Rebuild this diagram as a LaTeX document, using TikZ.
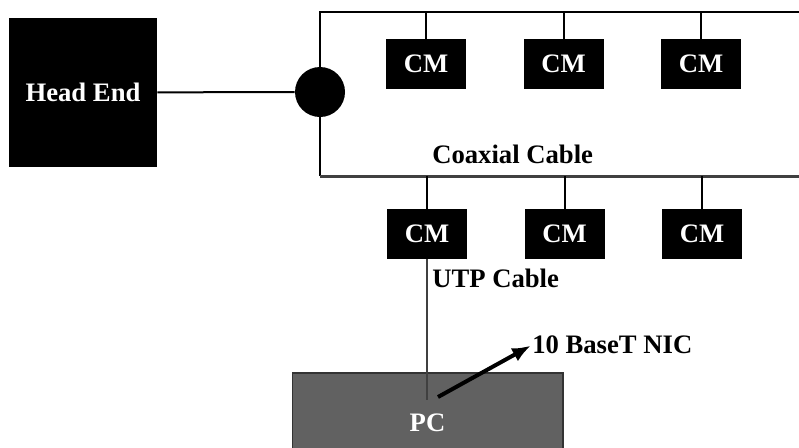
\documentclass[tikz,border=0pt]{standalone}
\usepackage{fontspec}
\setmainfont{Liberation Serif}
\usetikzlibrary{shapes,arrows.meta,positioning,calc}

\begin{document}
\begin{tikzpicture}[
    x=0.75pt, y=-0.75pt,
    node distance=42.75pt,
    font=\fontsize{20}{24}\selectfont\bfseries,
    box/.style={rectangle, fill=black, text=white, inner sep=0pt},
    modem/.style={box, minimum width=60pt, minimum height=37.5pt},
    hub/.style={circle, fill=black, minimum size=37.5pt, inner sep=0pt},
    cable/.style={draw, line width=1.5pt},
    coaxline/.style={draw=black!75, line width=2.25pt},
    utp/.style={draw=black!75, line width=1.5pt},
    tag/.style={anchor=west, text=black, inner sep=0pt},
    line/.style={draw, -{Latex[length=14pt,width=11pt]}, line width=3pt, shorten >=1pt}
]
    \clip (0,0) rectangle (799,447);

    % Nodes
    \node [box, minimum width=111pt, minimum height=111.75pt] (headend) at (83,92.5) {Head End};
    \node [hub] (splitter) at (320,92) {};
    \coordinate (coaxtop) at (830,12);
    \coordinate (coaxbot) at (830,176);

    % cable modems
    \node [modem] (cma) at (426,64) {CM};
    \node [modem, right=of cma] (cmb) {CM};
    \node [modem, right=of cmb] (cmc) {CM};
    \node [modem] (cmd) at (427,234) {CM};
    \node [modem, right=of cmd] (cme) {CM};
    \node [modem, right=of cme] (cmf) {CM};

    \node [box, fill=black!62, draw=black!80, line width=1pt, minimum width=203pt, minimum height=75pt] (pc) at (427.5,423) {PC};

    \node [tag] (coaxlabel) at (432,154) {Coaxial Cable};
    \node [tag] (utplabel) at (432,278) {UTP Cable};
    \node [tag] (niclabel) at (532,345) {10 BaseT NIC};
    \coordinate (nic) at (427,400);
    \coordinate (card) at (438,397);

    % Connections
    \draw [cable] (headend) -- (splitter);
    \draw [cable] (splitter.north) |- (coaxtop);
    \draw [cable] (splitter.south) -- (splitter.south |- coaxbot);
    \draw [coaxline] (splitter.south |- coaxbot) -- (coaxbot);
    \foreach \m in {cma,cmb,cmc}
        \draw [cable] (\m.north) -- (\m.north |- coaxtop);
    \foreach \m in {cmd,cme,cmf}
        \draw [cable] (\m.north) -- (\m.north |- coaxbot);
    \draw [utp] (cmd.south) -- (nic);
    \draw [line] (card) -- (niclabel.west);

\end{tikzpicture}
\end{document}
